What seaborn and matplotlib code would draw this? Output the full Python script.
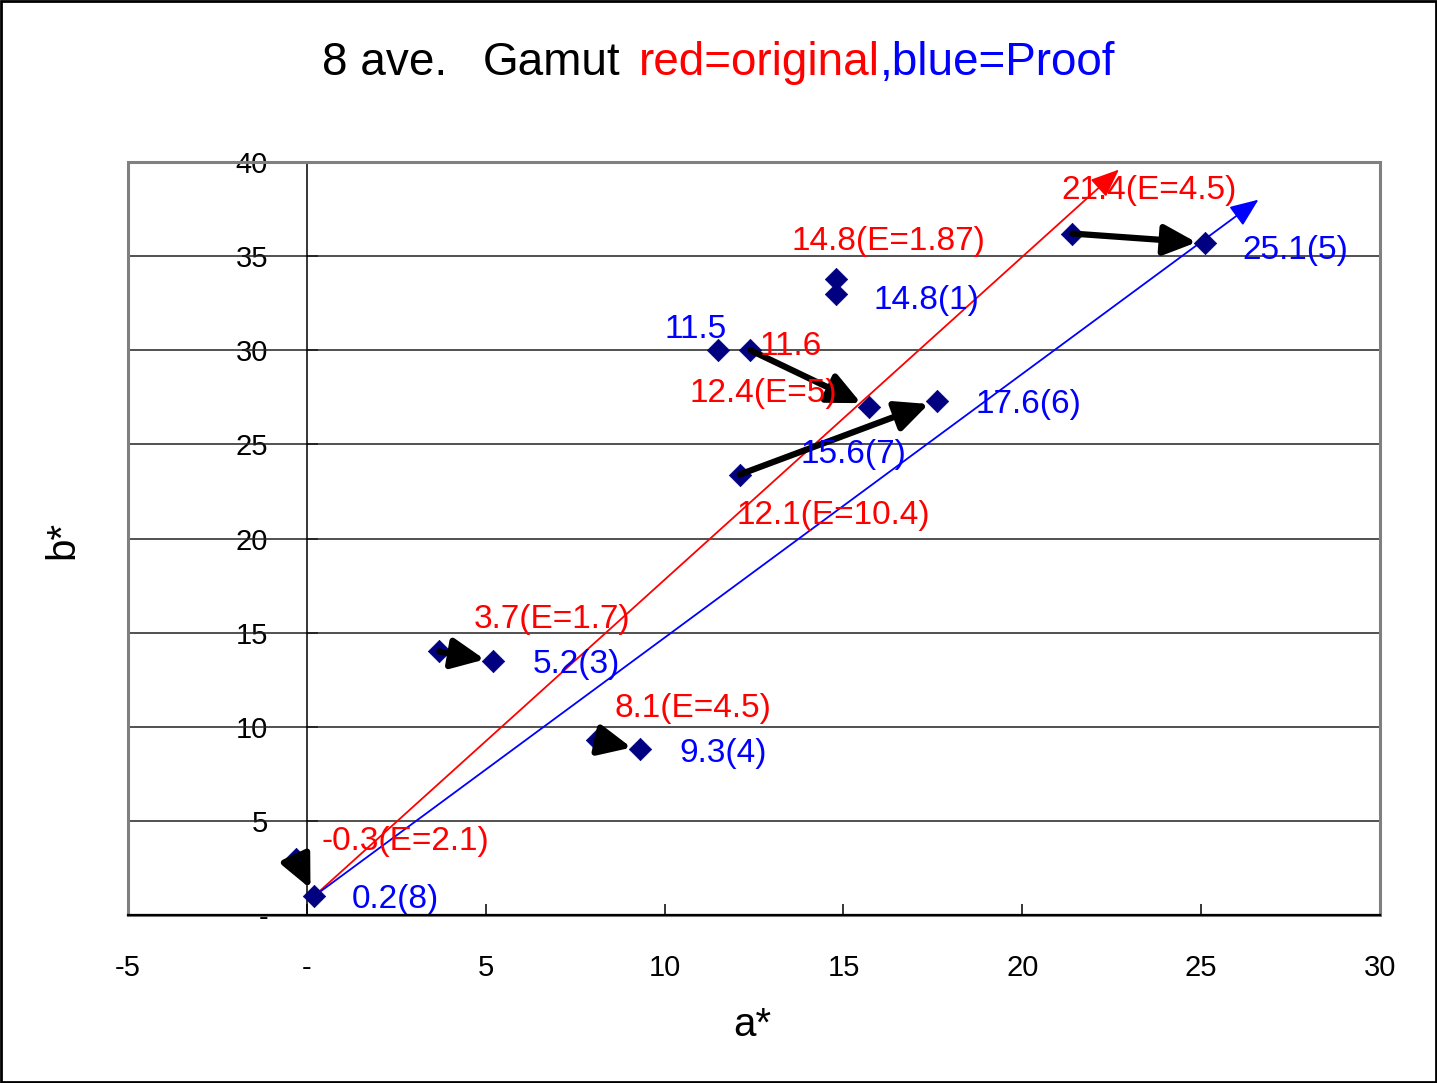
import pandas as pd
import matplotlib.pyplot as plt
import seaborn as sns
from matplotlib.patches import Rectangle

# measured points (a*, b*)
a_vals = [-0.3, 0.2, 3.7, 5.2, 8.1, 9.3, 11.5, 12.4, 15.7, 12.1, 17.6, 14.8, 14.8, 21.4, 25.1]
b_vals = [3.0, 1.0, 14.0, 13.5, 9.3, 8.8, 30.0, 30.0, 27.0, 23.4, 27.3, 33.8, 33.0, 36.2, 35.7]

# original -> proof moves (index pairs into the points above)
moves = [(0, 1), (2, 3), (4, 5), (7, 8), (9, 10), (13, 14)]

# gamut direction lines: start and end (a*, b*)
red_line_a = [0.2, 22.7]
red_line_b = [1.0, 39.6]
blue_line_a = [0.2, 26.6]
blue_line_b = [1.0, 38.0]

red_labels = ["21.4(E=4.5)", "14.8(E=1.87)", "11.6", "12.4(E=5)",
              "12.1(E=10.4)", "3.7(E=1.7)", "8.1(E=4.5)", "-0.3(E=2.1)"]
red_label_pos = [(21.1, 38.5), (13.55, 35.8), (12.65, 30.2), (10.7, 27.7),
                 (12.0, 21.2), (4.65, 15.7), (8.6, 10.95), (0.4, 3.9)]
blue_labels = ["25.1(5)", "14.8(1)", "11.5", "17.6(6)", "15.6(7)",
               "5.2(3)", "9.3(4)", "0.2(8)"]
blue_label_pos = [(26.15, 35.3), (15.85, 32.65), (10.0, 31.1), (18.7, 27.1),
                  (13.8, 24.45), (6.3, 13.3), (10.4, 8.6), (1.25, 0.8)]

x_ticks = [-5, 0, 5, 10, 15, 20, 25, 30]
x_tick_labels = ["-5", "-", "5", "10", "15", "20", "25", "30"]
y_ticks = [0, 5, 10, 15, 20, 25, 30, 35, 40]
y_tick_labels = ["-", "5", "10", "15", "20", "25", "30", "35", "40"]

df = pd.DataFrame({"a": a_vals, "b": b_vals})

sns.set_theme(style="white")
plt.rcParams['font.family'] = ['Liberation Sans', 'DejaVu Sans']
plt.rcParams['text.color'] = 'black'

fig = plt.figure(figsize=(14.37, 10.83), dpi=100)
ax = fig.add_axes([0.0891, 0.1551, 0.8713, 0.6953])

# horizontal grid
for yv in y_ticks[1:-1]:
    ax.axhline(yv, color='#222222', lw=1.1, zorder=1)

# gamut lines
ax.annotate("", xy=(red_line_a[1], red_line_b[1]), xytext=(red_line_a[0], red_line_b[0]),
            arrowprops=dict(arrowstyle='-|>,head_length=1.1,head_width=0.45', color='#ff0000',
                            lw=1.3, mutation_scale=16, shrinkA=0, shrinkB=0), zorder=3)
ax.annotate("", xy=(blue_line_a[1], blue_line_b[1]), xytext=(blue_line_a[0], blue_line_b[0]),
            arrowprops=dict(arrowstyle='-|>,head_length=1.1,head_width=0.45', color='#0000ff',
                            lw=1.3, mutation_scale=16, shrinkA=0, shrinkB=0), zorder=3)

# points
sns.scatterplot(data=df, x="a", y="b", marker="D", s=130, color="#000080",
                edgecolor="#000080", linewidth=0.5, ax=ax, zorder=4, clip_on=False)

# move arrows
for i, j in moves:
    ax.annotate("", xy=(a_vals[j], b_vals[j]), xytext=(a_vals[i], b_vals[i]),
                arrowprops=dict(arrowstyle='-|>,head_length=0.9,head_width=0.42', color='black',
                                lw=4.5, mutation_scale=22, shrinkA=0, shrinkB=6), zorder=4)

for txt, (x, y) in zip(red_labels, red_label_pos):
    ax.text(x, y, txt, color='#ff0000', fontsize=24, ha='left', va='center', zorder=6)
for txt, (x, y) in zip(blue_labels, blue_label_pos):
    ax.text(x, y, txt, color='#0000ff', fontsize=24, ha='left', va='center', zorder=6)

ax.set_xlim(-5, 30)
ax.set_ylim(0, 40)

# frame of plot area
for s in ['top', 'right']:
    ax.spines[s].set_visible(False)
ax.add_patch(Rectangle((0, 0), 1, 1, transform=ax.transAxes, fill=False,
                       edgecolor='#808080', lw=2.2, zorder=5, clip_on=False))
ax.spines['left'].set_position(('data', 0))
ax.spines['left'].set_color('black')
ax.spines['left'].set_linewidth(1.1)
ax.spines['bottom'].set_color('black')
ax.spines['bottom'].set_linewidth(1.6)
ax.spines['bottom'].set_zorder(6)

ax.set_xlabel("")
ax.set_ylabel("")
ax.set_xticks(x_ticks)
ax.set_yticks(y_ticks)
ax.tick_params(axis='both', direction='in', length=8, width=1.1, color='black',
               pad=28, labelcolor='black', left=True, bottom=True)
ax.set_xticklabels(x_tick_labels, fontsize=21, color='black')
ax.set_yticklabels(y_tick_labels, fontsize=21, color='black')

fig.text(752 / 1437, 1 - 1025 / 1083, "a*", fontsize=29, color='black', ha='center', va='center')
fig.text(62 / 1437, 1 - 540 / 1083, "b*", fontsize=29, color='black', ha='center', va='center',
         rotation=90)

# title in coloured parts, the blue one placed right after the red one
ty = 1 - 75 / 1083
fig.text(322 / 1437, ty, "8 ave.", fontsize=33, color='black', ha='left', va='baseline')
fig.text(483 / 1437, ty, "Gamut", fontsize=33, color='black', ha='left', va='baseline')
t2 = fig.text(639 / 1437, ty, "red=original", fontsize=33, color='#ff0000', ha='left', va='baseline')
fig.canvas.draw()
r2 = t2.get_window_extent()
fig.text(r2.x1 / fig.bbox.width, ty, ",blue=Proof", fontsize=33, color='#0000ff',
         ha='left', va='baseline')

# outer border
fig.patches.append(Rectangle((0.001, 0.001), 0.998, 0.998, transform=fig.transFigure,
                             fill=False, edgecolor='black', lw=2))

plt.savefig('out.png', dpi=100)
plt.close()
